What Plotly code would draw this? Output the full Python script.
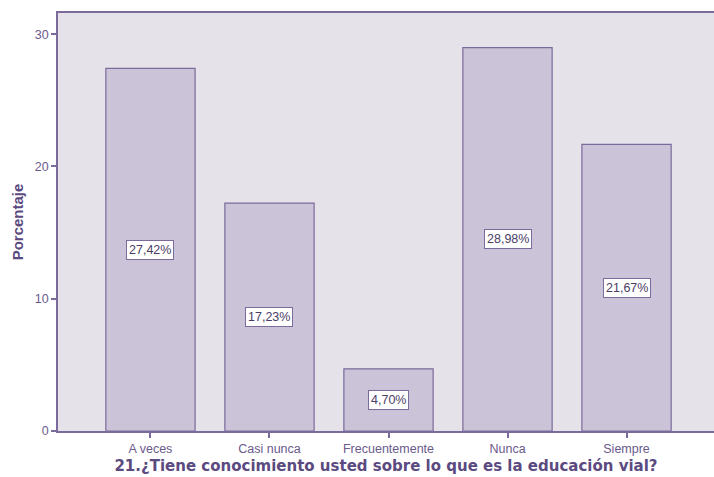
import plotly.graph_objects as go

categories = ["A veces", "Casi nunca", "Frecuentemente", "Nunca", "Siempre"]
percentages = [27.42, 17.23, 4.70, 28.98, 21.67]
y_ticks = [0, 10, 20, 30]

purple = "#5b4a80"
bar_fill = "#cbc3d7"
bar_line = "#7b6b9c"
bg = "#e6e2ea"

fig = go.Figure(
    go.Bar(
        x=list(range(len(categories))),
        y=percentages,
        marker=dict(color=bar_fill, line=dict(color=bar_line, width=1.2)),
        width=0.75,
        hoverinfo="skip",
    )
)

# value labels in white boxes at half the bar height
for i, v in enumerate(percentages):
    fig.add_annotation(
        x=i, y=v / 2,
        text=f"{v:.2f}%".replace(".", ","),
        showarrow=False,
        bgcolor="white",
        bordercolor=bar_line,
        borderwidth=1,
        borderpad=2,
        font=dict(family="Liberation Sans", size=12.5, color="#4a3d66"),
    )

fig.update_layout(
    width=714, height=477,
    margin=dict(l=58, r=0, t=13, b=46),
    paper_bgcolor="white",
    plot_bgcolor=bg,
    showlegend=False,
    xaxis=dict(
        range=[-0.777, 4.735],
        tickmode="array",
        tickvals=list(range(len(categories))),
        ticktext=categories,
        ticks="outside", ticklen=5, tickcolor=bar_line, tickwidth=1.5,
        tickfont=dict(family="Liberation Sans", size=12.5, color="#6a5a8c"),
        showgrid=False, zeroline=False,
        showline=True, linecolor=bar_line, linewidth=1.5, mirror=True,
        title=dict(
            text="21.¿Tiene conocimiento usted sobre lo que es la educación vial?",
            font=dict(family="DejaVu Sans", size=15, color=purple, weight="bold"),
            standoff=6,
        ),
    ),
    yaxis=dict(
        range=[0, 31.6],
        tickmode="array", tickvals=y_ticks,
        ticks="outside", ticklen=5, tickcolor=bar_line, tickwidth=1.5,
        tickfont=dict(family="Liberation Sans", size=12.5, color="#6a5a8c"),
        showgrid=False, zeroline=False,
        showline=True, linecolor=bar_line, linewidth=1.5, mirror=False,
        title=dict(
            text="Porcentaje",
            font=dict(family="Liberation Sans", size=15, color=purple, weight="bold"),
            standoff=8,
        ),
    ),
)

fig.write_html("out.html")
